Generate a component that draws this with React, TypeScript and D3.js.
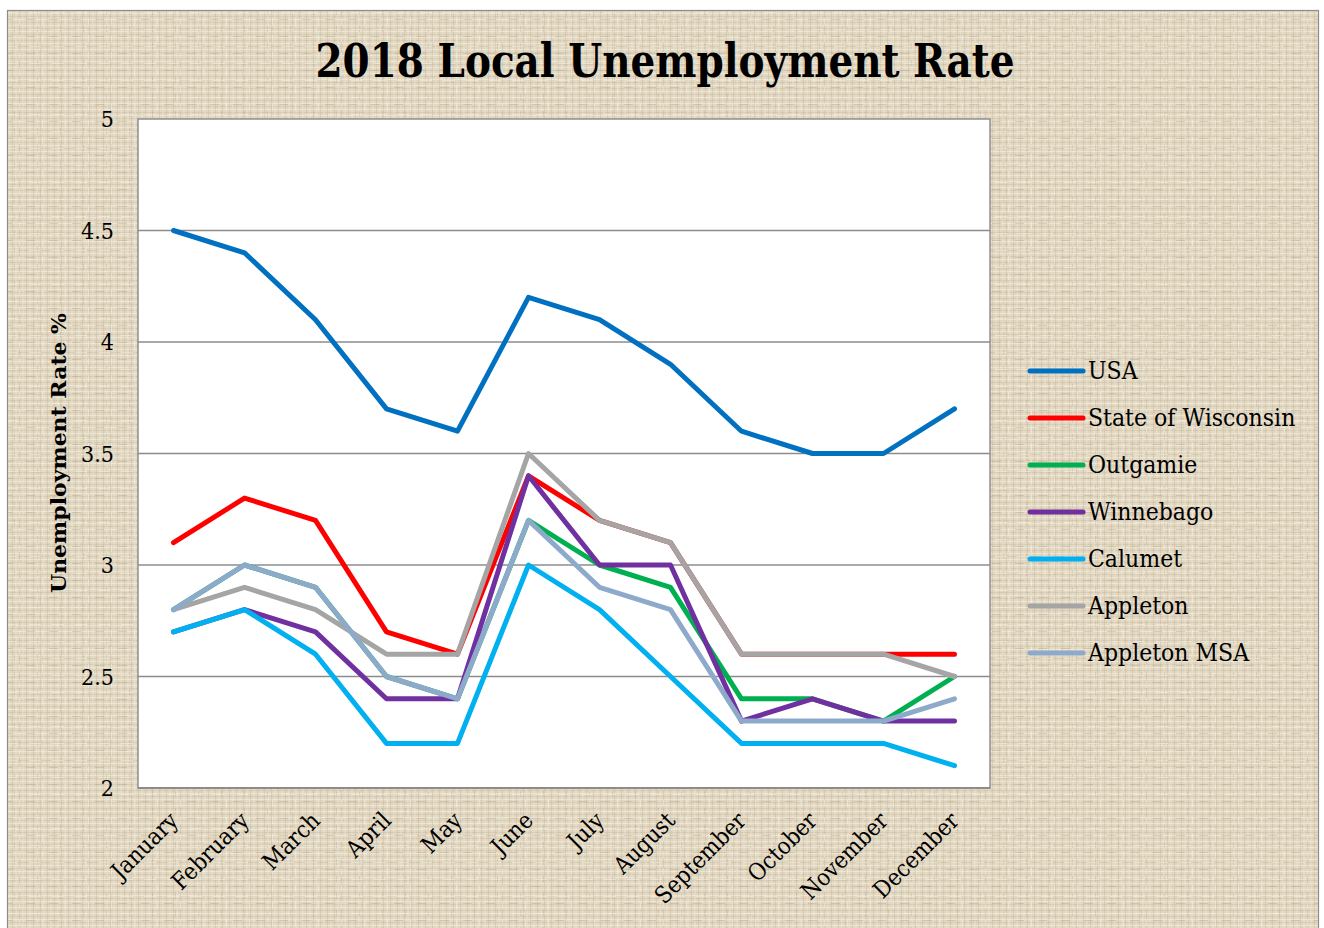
import React from "react";
import * as d3 from "d3";

const months = ["January","February","March","April","May","June","July","August","September","October","November","December"];
const seriesNames = ["USA","State of Wisconsin","Outgamie","Winnebago","Calumet","Appleton","Appleton MSA"];
const seriesColors = ["#0070C0","#FF0000","#00B050","#7030A0","#00B0F0","#A5A5A5","#8EAACB"];
const usa = [4.5,4.4,4.1,3.7,3.6,4.2,4.1,3.9,3.6,3.5,3.5,3.7];
const wisconsin = [3.1,3.3,3.2,2.7,2.6,3.4,3.2,3.1,2.6,2.6,2.6,2.6];
const outgamie = [2.8,3.0,2.9,2.5,2.4,3.2,3.0,2.9,2.4,2.4,2.3,2.5];
const winnebago = [2.7,2.8,2.7,2.4,2.4,3.4,3.0,3.0,2.3,2.4,2.3,2.3];
const calumet = [2.7,2.8,2.6,2.2,2.2,3.0,2.8,2.5,2.2,2.2,2.2,2.1];
const appleton = [2.8,2.9,2.8,2.6,2.6,3.5,3.2,3.1,2.6,2.6,2.6,2.5];
const appletonMsa = [2.8,3.0,2.9,2.5,2.4,3.2,2.9,2.8,2.3,2.3,2.3,2.4];
const yTicks = [2,2.5,3,3.5,4,4.5,5];

const allSeries = [usa, wisconsin, outgamie, winnebago, calumet, appleton, appletonMsa];

const FONT = "'DejaVu Serif Condensed', 'Liberation Serif', serif";

export default function App() {
  const W = 1324, H = 928;
  const plot = { l: 138, r: 990, t: 119, b: 788 };
  const x = d3.scaleBand<string>().domain(months).range([plot.l, plot.r]).padding(0);
  const y = d3.scaleLinear().domain([2, 5]).range([plot.b, plot.t]);
  const cx = (m: string) => (x(m) as number) + x.bandwidth() / 2;
  const line = d3.line<number>().x((_, i) => cx(months[i])).y((v) => y(v));

  const legendX = 1030, legendY0 = 371, legendStep = 47;

  return (
    <svg width={W} height={H} style={{ position: "absolute", left: 0, top: 0 }}>
      <defs>
        <pattern id="linen" width="7" height="6" patternUnits="userSpaceOnUse">
          <rect width="7" height="6" fill="#E1D6C0" />
          <line x1="0" y1="1.5" x2="7" y2="1.5" stroke="#F1EADB" strokeWidth="1" opacity="0.8" />
          <line x1="0" y1="4.5" x2="7" y2="4.5" stroke="#C8BAA1" strokeWidth="0.8" opacity="0.6" />
          <line x1="2" y1="0" x2="2" y2="6" stroke="#EFE7D7" strokeWidth="0.9" opacity="0.7" />
          <line x1="5.5" y1="0" x2="5.5" y2="6" stroke="#C4B69C" strokeWidth="0.7" opacity="0.55" />
        </pattern>
        <pattern id="linen2" width="23" height="17" patternUnits="userSpaceOnUse">
          <rect x="3" y="2" width="9" height="1" fill="#B3A58A" opacity="0.4" />
          <rect x="14" y="9" width="1" height="6" fill="#B3A58A" opacity="0.35" />
          <rect x="6" y="12" width="12" height="1" fill="#F6F0E4" opacity="0.55" />
          <rect x="19" y="1" width="1" height="7" fill="#F6F0E4" opacity="0.55" />
        </pattern>
      </defs>
      <rect x={0} y={0} width={W} height={H} fill="#ffffff" />
      <rect x={7.5} y={10.5} width={1311} height={930} fill="url(#linen)" stroke="#8C8C8C" strokeWidth={1.2} />
      <rect x={8} y={11} width={1310} height={929} fill="url(#linen2)" />

      <text x={665} y={77} textAnchor="middle" fontFamily={FONT} fontWeight="bold" fontSize={46}
        textLength={699} lengthAdjust="spacingAndGlyphs" fill="#000">2018 Local Unemployment Rate</text>

      <rect x={plot.l} y={plot.t} width={plot.r - plot.l} height={plot.b - plot.t} fill="#ffffff" stroke="#909090" strokeWidth={1.5} />
      {yTicks.filter((t) => t > 2 && t < 5).map((t) => (
        <line key={t} x1={plot.l} x2={plot.r} y1={y(t)} y2={y(t)} stroke="#8C8C8C" strokeWidth={1.5} />
      ))}
      <line x1={plot.l} x2={plot.r} y1={plot.b} y2={plot.b} stroke="#8C8C8C" strokeWidth={2} />

      {yTicks.map((t) => (
        <text key={t} x={114} y={y(t) + 8} textAnchor="end" fontFamily={FONT} fontSize={23} fill="#000">{String(t)}</text>
      ))}

      <text transform={`translate(66,${453}) rotate(-90)`} textAnchor="middle" fontFamily={FONT} fontWeight="bold" fontSize={20}
        textLength={280} lengthAdjust="spacingAndGlyphs" fill="#000">Unemployment Rate %</text>

      {months.map((m) => (
        <text key={m} transform={`translate(${cx(m) + 6},${822}) rotate(-45)`} textAnchor="end"
          fontFamily={FONT} fontSize={23.5} fill="#000">{m}</text>
      ))}

      {allSeries.map((s, i) => (
        <path key={seriesNames[i]} d={line(s) as string} fill="none" stroke={seriesColors[i]} strokeWidth={5}
          strokeLinejoin="round" strokeLinecap="round" />
      ))}

      {seriesNames.map((n, i) => (
        <g key={n}>
          <line x1={legendX} x2={legendX + 53} y1={legendY0 + i * legendStep} y2={legendY0 + i * legendStep}
            stroke={seriesColors[i]} strokeWidth={5} strokeLinecap="round" />
          <text x={legendX + 58} y={legendY0 + i * legendStep + 8} fontFamily={FONT} fontSize={24.5} fill="#000">{n}</text>
        </g>
      ))}
    </svg>
  );
}
